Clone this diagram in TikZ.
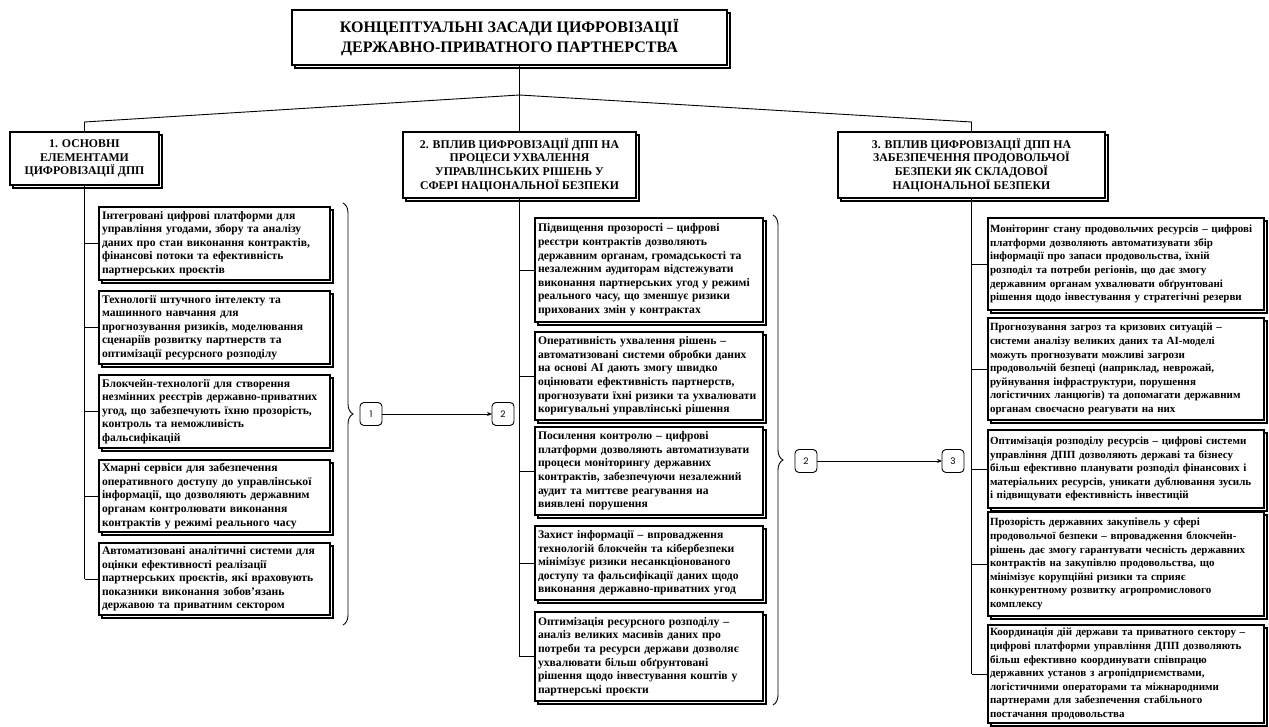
\documentclass[tikz,border=0pt]{standalone}
\usepackage{fontspec}
\setmainfont{Liberation Serif}
\newfontfamily\numfont{Poppins}
\usetikzlibrary{shadows,decorations.pathreplacing,arrows.meta}
\begin{document}
\begin{tikzpicture}[x=1pt,y=-1pt,
  every node/.style={inner sep=0pt, outer sep=0pt},
  shbox/.style={draw=black, line width=1.1pt, fill=white,
    copy shadow={draw=black, fill=white, shadow xshift=3pt, shadow yshift=-3pt}},
  titlebox/.style={shbox, align=center, font=\bfseries\fontsize{16}{20}\selectfont},
  headbox/.style={shbox, align=center, font=\bfseries\fontsize{11.8}{13.6}\selectfont},
  itembox/.style={shbox, anchor=north west, align=left, inner xsep=3pt,
    font=\bfseries\fontsize{11.6}{13.6}\selectfont},
  lbox/.style={itembox, text width=225pt},
  mbox/.style={itembox, text width=222pt},
  rbox/.style={itembox, text width=272pt, inner xsep=2pt,
    font=\bfseries\fontsize{11}{13.6}\selectfont},
  numbox/.style={draw=black, line width=0.9pt, rounded corners=4pt, fill=white,
    minimum width=22pt, minimum height=23pt, font=\numfont\fontsize{9}{9}\selectfont},
  conn/.style={draw=black, line width=0.9pt},
  brc/.style={draw=black, line width=0.9pt, decorate, decoration={brace, amplitude=10pt}},
  arr/.style={conn, -{Stealth[length=5pt,width=4pt]}}
]
\useasboundingbox (0,0) rectangle (1269,727);

% title
\node[titlebox, minimum width=435pt, minimum height=55pt] (T) at (509.5,37.5)
  {КОНЦЕПТУАЛЬНІ ЗАСАДИ ЦИФРОВІЗАЦІЇ\\ДЕРЖАВНО-ПРИВАТНОГО ПАРТНЕРСТВА};

% headers
\node[headbox, minimum width=149pt, minimum height=53pt] (H1) at (84.5,158.5)
  {1. ОСНОВНІ\\ЕЛЕМЕНТАМИ\\ЦИФРОВІЗАЦІЇ ДПП};
\node[headbox, minimum width=233pt, minimum height=66pt] (H2) at (519.5,165)
  {2. ВПЛИВ ЦИФРОВІЗАЦІЇ ДПП НА\\ПРОЦЕСИ УХВАЛЕННЯ\\УПРАВЛІНСЬКИХ РІШЕНЬ У\\СФЕРІ НАЦІОНАЛЬНОЇ БЕЗПЕКИ};
\node[headbox, minimum width=267pt, minimum height=66pt] (H3) at (971.5,165)
  {3. ВПЛИВ ЦИФРОВІЗАЦІЇ ДПП НА\\ЗАБЕЗПЕЧЕННЯ ПРОДОВОЛЬЧОЇ\\БЕЗПЕКИ ЯК СКЛАДОВОЇ\\НАЦІОНАЛЬНОЇ БЕЗПЕКИ};

% top connectors
\coordinate (J) at (519.5,95);
\coordinate (JL) at (84.5,122);
\coordinate (JR) at (971.5,122);
\draw[conn] (T.south -| H2.north) -- (H2.north);
\draw[conn] (J) -- (JL) -- (H1.north);
\draw[conn] (J) -- (JR) -- (H3.north);

% left column
\node[lbox, minimum height=73pt] (L1) at (99,207)
  {Інтегровані цифрові платформи для\\управління угодами, збору та аналізу\\даних про стан виконання контрактів,\\фінансові потоки та ефективність\\партнерських проєктів};
\node[lbox, minimum height=73pt] (L2) at (99,291)
  {Технології штучного інтелекту та\\машинного навчання для\\прогнозування ризиків, моделювання\\сценаріїв розвитку партнерств та\\оптимізації ресурсного розподілу};
\node[lbox, minimum height=73pt] (L3) at (99,375)
  {Блокчейн-технології для створення\\незмінних реєстрів державно-приватних\\угод, що забезпечують їхню прозорість,\\контроль та неможливість\\фальсифікацій};
\node[lbox, minimum height=72pt] (L4) at (99,460)
  {Хмарні сервіси для забезпечення\\оперативного доступу до управлінської\\інформації, що дозволяють державним\\органам контролювати виконання\\контрактів у режимі реального часу};
\node[lbox, minimum height=72pt] (L5) at (99,543)
  {Автоматизовані аналітичні системи для\\оцінки ефективності реалізації\\партнерських проєктів, які враховують\\показники виконання зобов’язань\\державою та приватним сектором};
\draw[conn] (H1.south) -- (H1.south |- L5.west);
\foreach \b in {L1,L2,L3,L4,L5} \draw[conn] (H1.south |- \b.west) -- (\b.west);

% middle column
\node[mbox, minimum height=104pt] (M1) at (535,218)
  {Підвищення прозорості – цифрові\\реєстри контрактів дозволяють\\державним органам, громадськості та\\незалежним аудиторам відстежувати\\виконання партнерських угод у режимі\\реального часу, що зменшує ризики\\прихованих змін у контрактах};
\node[mbox, minimum height=88pt] (M2) at (535,332)
  {Оперативність ухвалення рішень –\\автоматизовані системи обробки даних\\на основі AI дають змогу швидко\\оцінювати ефективність партнерств,\\прогнозувати їхні ризики та ухвалювати\\коригувальні управлінські рішення};
\node[mbox, minimum height=88pt] (M3) at (535,427)
  {Посилення контролю – цифрові\\платформи дозволяють автоматизувати\\процеси моніторингу державних\\контрактів, забезпечуючи незалежний\\аудит та миттєве реагування на\\виявлені порушення};
\node[mbox, minimum height=74pt] (M4) at (535,526)
  {Захист інформації – впровадження\\технологій блокчейн та кібербезпеки\\мінімізує ризики несанкціонованого\\доступу та фальсифікації даних щодо\\виконання державно-приватних угод};
\node[mbox, minimum height=89pt] (M5) at (535,612)
  {Оптимізація ресурсного розподілу –\\аналіз великих масивів даних про\\потреби та ресурси держави дозволяє\\ухвалювати більш обґрунтовані\\рішення щодо інвестування коштів у\\партнерські проєкти};
\draw[conn] (H2.south) -- (H2.south |- M5.west);
\foreach \b in {M1,M2,M3,M4,M5} \draw[conn] (H2.south |- \b.west) -- (\b.west);

% right column
\node[rbox, minimum height=92pt] (R1) at (988,218)
  {Моніторинг стану продовольчих ресурсів – цифрові\\платформи дозволяють автоматизувати збір\\інформації про запаси продовольства, їхній\\розподіл та потреби регіонів, що дає змогу\\державним органам ухвалювати обґрунтовані\\рішення щодо інвестування у стратегічні резерви};
\node[rbox, minimum height=102pt] (R2) at (988,318)
  {Прогнозування загроз та кризових ситуацій –\\системи аналізу великих даних та AI-моделі\\можуть прогнозувати можливі загрози\\продовольчій безпеці (наприклад, неврожай,\\руйнування інфраструктури, порушення\\логістичних ланцюгів) та допомагати державним\\органам своєчасно реагувати на них};
\node[rbox, minimum height=78pt] (R3) at (988,430)
  {Оптимізація розподілу ресурсів – цифрові системи\\управління ДПП дозволяють державі та бізнесу\\більш ефективно планувати розподіл фінансових і\\матеріальних ресурсів, уникати дублювання зусиль\\і підвищувати ефективність інвестицій};
\node[rbox, minimum height=104pt] (R4) at (988,512)
  {Прозорість державних закупівель у сфері\\продовольчої безпеки – впровадження блокчейн-\\рішень дає змогу гарантувати чесність державних\\контрактів на закупівлю продовольства, що\\мінімізує корупційні ризики та сприяє\\конкурентному розвитку агропромислового\\комплексу};
\node[rbox, minimum height=98pt] (R5) at (988,625)
  {Координація дій держави та приватного сектору –\\цифрові платформи управління ДПП дозволяють\\більш ефективно координувати співпрацю\\державних установ з агропідприємствами,\\логістичними операторами та міжнародними\\партнерами для забезпечення стабільного\\постачання продовольства};
\draw[conn] (H3.south) -- (H3.south |- R5.west);
\foreach \b in {R1,R2,R3,R4,R5} \draw[conn] (H3.south |- \b.west) -- (\b.west);

% braces
\coordinate (B1a) at (343,203);
\coordinate (B1b) at (343,625);
\draw[brc] (B1a) -- (B1b);
\coordinate (B2a) at (773,215);
\coordinate (B2b) at (773,705);
\draw[brc] (B2a) -- (B2b);

% numbered nodes
\node[numbox] (N1) at (371,414) {1};
\node[numbox] (N2a) at (503,414) {2};
\node[numbox] (N2b) at (806,461) {2};
\node[numbox] (N3) at (953,461) {3};
\draw[arr] (N1) -- (N2a);
\draw[arr] (N2b) -- (N3);
\end{tikzpicture}
\end{document}
